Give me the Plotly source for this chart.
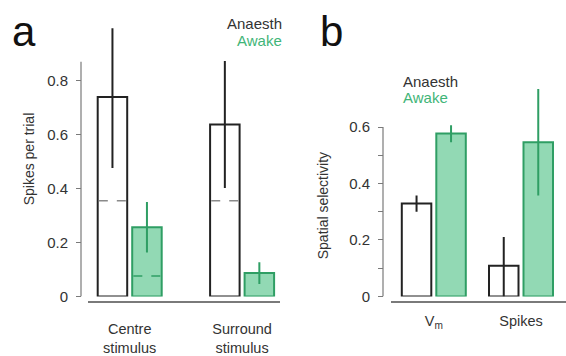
import plotly.graph_objects as go

# ---- data ----
cond_a = ["Centre<br>stimulus", "Surround<br>stimulus"]
anaesth_a = [0.74, 0.638]
anaesth_a_hi = [0.995, 0.873]
anaesth_a_lo = [0.477, 0.402]
anaesth_a_base = [0.355, 0.355]
awake_a = [0.257, 0.087]
awake_a_hi = [0.35, 0.127]
awake_a_lo = [0.163, 0.046]
awake_a_base = [0.076, None]

cond_b = ["V<sub>m</sub>", "Spikes"]
anaesth_b = [0.329, 0.109]
anaesth_b_hi = [0.358, 0.211]
anaesth_b_lo = [0.30, 0.0]
awake_b = [0.577, 0.546]
awake_b_hi = [0.606, 0.735]
awake_b_lo = [0.546, 0.358]

ticks_a = [0, 0.2, 0.4, 0.6, 0.8]
ticklabels_a = ["0", "0.2", "0.4", "0.6", "0.8"]
ticks_b = [0, 0.2, 0.4, 0.6]
ticklabels_b = ["0", "0.2", "0.4", "0.6"]
minor_ticks_b = [0.1, 0.3, 0.5]

# ---- styling ----
W, H = 566, 356
FONT = "Liberation Sans, Arial, sans-serif"
DARK = "#222222"
GREEN_EDGE = "#2f9e64"
GREEN_FILL = "#92d9b4"
GREEN_TEXT = "#3fb578"
AXIS_GREY = "#7a7a7a"


def fx(px):
    return px / W


def fy(px):
    return 1 - px / H


# bar geometry in pixels, relative to group centre
OUTER_PX = 32.0
INNER_PX = 2.5
ZERO_PX = 303.3
XLINE_PX = 309.0

panel_a = dict(centres=(129.7, 242.1), x_dom=(88, 280), px_per_unit_y=275.8, y_top=1.0,
               yaxis_px=81, label_gap=14)
panel_b = dict(centres=(433.8, 521.0), x_dom=(391, 566), px_per_unit_y=288.9, y_top=0.8,
               yaxis_px=383, label_gap=6)


def geometry(p):
    c0, c1 = p["centres"]
    ppu = c1 - c0
    xr = [(p["x_dom"][0] - c0) / ppu, 1 + (p["x_dom"][1] - c1) / ppu]
    width = (OUTER_PX - INNER_PX) / ppu
    off_an = -OUTER_PX / ppu
    off_aw = INNER_PX / ppu
    return xr, width, off_an, off_aw


fig = go.Figure()


def add_pair(p, xa, ya, an, an_hi, an_lo, aw, aw_hi, aw_lo):
    xr, width, off_an, off_aw = geometry(p)
    idx = list(range(len(an)))
    for vals, hi, lo, off, fill, edge in [
        (an, an_hi, an_lo, off_an, "white", DARK),
        (aw, aw_hi, aw_lo, off_aw, GREEN_FILL, GREEN_EDGE),
    ]:
        fig.add_trace(go.Bar(
            x=idx, y=vals, width=width, offset=off,
            marker=dict(color=fill, line=dict(color=edge, width=2)),
            error_y=dict(type="data", symmetric=False,
                         array=[h - v for h, v in zip(hi, vals)],
                         arrayminus=[v - l for v, l in zip(vals, lo)],
                         color=edge, thickness=2, width=0),
            xaxis=xa, yaxis=ya, showlegend=False, hoverinfo="skip",
        ))
    return xr, width, off_an, off_aw


xr_a, w_a, oan_a, oaw_a = add_pair(panel_a, "x", "y", anaesth_a, anaesth_a_hi, anaesth_a_lo,
                                   awake_a, awake_a_hi, awake_a_lo)
xr_b, w_b, oan_b, oaw_b = add_pair(panel_b, "x2", "y2", anaesth_b, anaesth_b_hi, anaesth_b_lo,
                                   awake_b, awake_b_hi, awake_b_lo)

# dashed reference levels inside the panel-a bars
for base, off, col in [(anaesth_a_base, oan_a, "#8a8a8a"), (awake_a_base, oaw_a, GREEN_EDGE)]:
    xs, ys = [], []
    for i, b in enumerate(base):
        if b is None:
            continue
        xs += [i + off + 0.01, i + off + w_a - 0.01, None]
        ys += [b, b, None]
    fig.add_trace(go.Scatter(x=xs, y=ys, mode="lines", xaxis="x", yaxis="y",
                             line=dict(color=col, width=1.5, dash="dash"),
                             showlegend=False, hoverinfo="skip"))

tickfont = dict(family=FONT, size=15, color="#333333")


def xaxis_cfg(p, xr, labels):
    return dict(domain=[fx(p["x_dom"][0]), fx(p["x_dom"][1])], range=xr,
                anchor="free", position=fy(XLINE_PX),
                showline=True, linecolor=AXIS_GREY, linewidth=1.5,
                showgrid=False, zeroline=False, ticks="",
                tickmode="array", tickvals=list(range(len(labels))), ticktext=labels,
                tickfont=dict(family=FONT, size=14.5, color="#333333"),
                ticklabelstandoff=p["label_gap"], fixedrange=True)


def yaxis_cfg(p, vals, labels, minor_vals=None):
    top_px = ZERO_PX - p["y_top"] * p["px_per_unit_y"]
    cfg = dict(domain=[fy(ZERO_PX), fy(top_px)], range=[0, p["y_top"]],
               anchor="free", position=fx(p["yaxis_px"]),
               showline=False, showgrid=False, zeroline=False,
               ticks="outside", ticklen=5, tickwidth=1.2, tickcolor=AXIS_GREY,
               tickmode="array", tickvals=vals, ticktext=labels,
               tickfont=tickfont, ticklabelstandoff=5, fixedrange=True)
    if minor_vals:
        cfg["minor"] = dict(tickmode="array", tickvals=minor_vals, ticks="outside",
                            ticklen=5, tickwidth=1.2, tickcolor=AXIS_GREY, showgrid=False)
    return cfg


fig.update_layout(
    width=W, height=H, margin=dict(l=0, r=0, t=0, b=0),
    paper_bgcolor="white", plot_bgcolor="rgba(0,0,0,0)",
    xaxis=xaxis_cfg(panel_a, xr_a, cond_a),
    yaxis=yaxis_cfg(panel_a, ticks_a, ticklabels_a),
    xaxis2=xaxis_cfg(panel_b, xr_b, cond_b),
    yaxis2=yaxis_cfg(panel_b, ticks_b, ticklabels_b, minor_ticks_b),
    shapes=[
        dict(type="line", xref="paper", yref="y", x0=fx(81), x1=fx(81), y0=0, y1=0.871,
             line=dict(color=AXIS_GREY, width=1.2)),
        dict(type="line", xref="paper", yref="y2", x0=fx(383), x1=fx(383), y0=0, y1=0.6,
             line=dict(color=AXIS_GREY, width=1.2)),
    ],
)

ann = []
# panel letters
ann.append(dict(text="a", x=fx(10), y=fy(58), xanchor="left", yanchor="bottom",
                font=dict(family=FONT, size=42, color="#111111")))
ann.append(dict(text="b", x=fx(318), y=fy(58), xanchor="left", yanchor="bottom",
                font=dict(family=FONT, size=42, color="#111111")))
# legends
legfont = 15
ann.append(dict(text="Anaesth", x=fx(284), y=fy(24), xanchor="right", yanchor="middle",
                font=dict(family=FONT, size=legfont, color="#333333")))
ann.append(dict(text="Awake", x=fx(284), y=fy(41), xanchor="right", yanchor="middle",
                font=dict(family=FONT, size=legfont, color=GREEN_TEXT)))
ann.append(dict(text="Anaesth", x=fx(401), y=fy(83), xanchor="left", yanchor="middle",
                font=dict(family=FONT, size=legfont, color="#333333")))
ann.append(dict(text="Awake", x=fx(401), y=fy(99.5), xanchor="left", yanchor="middle",
                font=dict(family=FONT, size=legfont, color=GREEN_TEXT)))
# axis titles
ann.append(dict(text="Spikes per trial", x=fx(29), y=fy(163), textangle=-90,
                xanchor="center", yanchor="middle",
                font=dict(family=FONT, size=14, color="#333333")))
ann.append(dict(text="Spatial selectivity", x=fx(323), y=fy(210), textangle=-90,
                xanchor="center", yanchor="middle",
                font=dict(family=FONT, size=14, color="#333333")))
for a in ann:
    a.update(xref="paper", yref="paper", showarrow=False)
fig.update_layout(annotations=ann)

fig.write_html("out.html")
